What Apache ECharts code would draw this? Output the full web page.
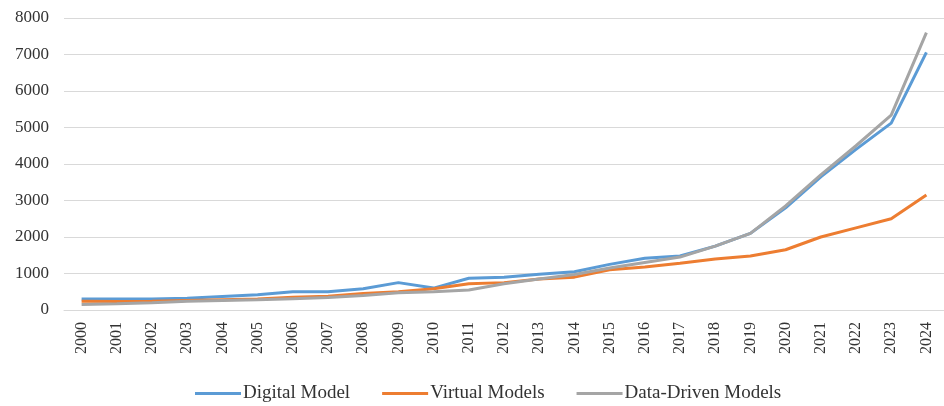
<!DOCTYPE html>
<html><head><meta charset="utf-8">
<script src="https://cdn.jsdelivr.net/npm/echarts@6/dist/echarts.min.js"></script>
<style>html,body{margin:0;padding:0;background:#fff}#c{width:944px;height:406px}</style>
</head><body><div id="c"></div>
<script>
const years = ['2000','2001','2002','2003','2004','2005','2006','2007','2008','2009','2010','2011','2012','2013','2014','2015','2016','2017','2018','2019','2020','2021','2022','2023','2024'];
const digitalModel = [300,300,300,320,370,420,500,500,580,750,600,870,900,980,1050,1250,1420,1480,1750,2100,2800,3650,4400,5120,7060];
const virtualModels = [240,230,240,260,280,300,350,380,450,500,580,720,750,850,900,1100,1180,1280,1400,1480,1650,2000,2250,2500,3150];
const dataDrivenModels = [150,170,200,240,260,280,310,340,400,470,500,550,720,850,970,1150,1300,1450,1750,2100,2850,3700,4500,5340,7600];
const yTicks = [0,1000,2000,3000,4000,5000,6000,7000,8000];

const chart = echarts.init(document.getElementById('c'));
const font = '"Liberation Serif", "Times New Roman", serif';
chart.setOption({
  animation: false,
  grid: {left: 64, top: 18, width: 887, height: 292, containLabel: false},
  legend: {
    top: 379, left: 190, itemWidth: 46, itemHeight: 3, itemGap: 32,
    icon: 'rect',
    textStyle: {fontFamily: font, fontSize: 19, color: '#333', padding: [0,0,0,-3]},
    data: ['Digital Model','Virtual Models','Data-Driven Models']
  },
  xAxis: {
    type: 'category', data: years, boundaryGap: true,
    axisLine: {show: true, lineStyle: {color: '#d9d9d9', width: 1}},
    axisTick: {show: false},
    axisLabel: {rotate: 90, fontFamily: font, fontSize: 16, color: '#333', margin: 12, interval: 0}
  },
  yAxis: {
    type: 'value', min: yTicks[0], max: yTicks[yTicks.length-1], interval: 1000,
    axisLine: {show: false}, axisTick: {show: false},
    axisLabel: {fontFamily: font, fontSize: 17, color: '#333', margin: 15, formatter: v => String(v)},
    splitLine: {lineStyle: {color: '#d9d9d9', width: 1}}
  },
  series: [
    {name: 'Digital Model', type: 'line', data: digitalModel, symbol: 'none', lineStyle: {width: 3, color: '#5b9bd5'}, itemStyle: {color: '#5b9bd5'}},
    {name: 'Virtual Models', type: 'line', data: virtualModels, symbol: 'none', lineStyle: {width: 3, color: '#ed7d31'}, itemStyle: {color: '#ed7d31'}},
    {name: 'Data-Driven Models', type: 'line', data: dataDrivenModels, symbol: 'none', lineStyle: {width: 3, color: '#a5a5a5'}, itemStyle: {color: '#a5a5a5'}}
  ]
});
</script></body></html>
